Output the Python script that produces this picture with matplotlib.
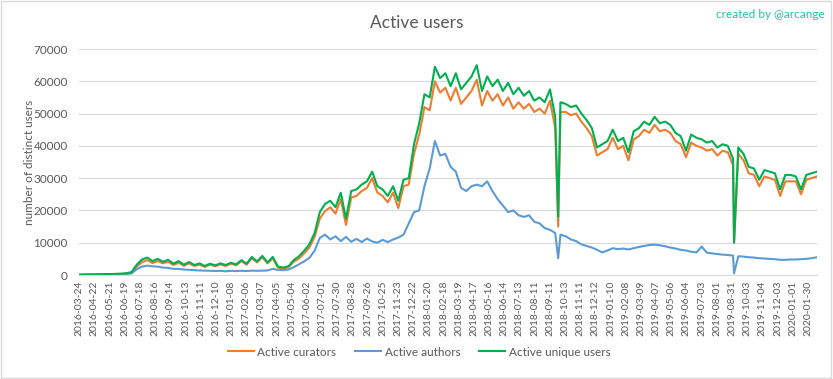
import matplotlib
matplotlib.use("Agg")
import matplotlib.pyplot as plt
from matplotlib.patches import Rectangle
import numpy as np

# ==========================================
# DATA (one sample about every 10 days)
# ==========================================

N_DAYS = 1410

tick_labels = [
    "2016-03-24", "2016-04-22", "2016-05-21", "2016-06-19", "2016-07-18",
    "2016-08-16", "2016-09-14", "2016-10-13", "2016-11-11", "2016-12-10",
    "2017-01-08", "2017-02-06", "2017-03-07", "2017-04-05", "2017-05-04",
    "2017-06-02", "2017-07-01", "2017-07-30", "2017-08-28", "2017-09-26",
    "2017-10-25", "2017-11-23", "2017-12-22", "2018-01-20", "2018-02-18",
    "2018-03-19", "2018-04-17", "2018-05-16", "2018-06-14", "2018-07-13",
    "2018-08-11", "2018-09-11", "2018-10-13", "2018-11-11", "2018-12-12",
    "2019-01-10", "2019-02-08", "2019-03-09", "2019-04-07", "2019-05-06",
    "2019-06-04", "2019-07-03", "2019-08-01", "2019-08-31", "2019-10-03",
    "2019-11-04", "2019-12-03", "2020-01-01", "2020-01-30",
]
TICK_EVERY = 29

unique_users = [
    100, 150, 200, 200, 250, 300, 300, 350, 400, 550,
    900, 3200, 4800, 5400, 4300, 5000, 4100, 4700, 3500, 4300,
    3200, 4000, 3100, 3600, 2800, 3500, 3000, 3600, 3100, 3800,
    3300, 4600, 3500, 5600, 4200, 5900, 3900, 5600, 2600, 2300,
    2700, 4600, 5800, 7500, 9500, 13000, 19500, 22000, 23000, 21000,
    25500, 17500, 26000, 26500, 28000, 29000, 32000, 27500, 26500, 24500,
    27500, 23000, 29500, 30000, 40500, 47000, 56000, 55000, 64500, 61000,
    62500, 58500, 62500, 57500, 59500, 61500, 65000, 57000, 61500, 58500,
    60500, 57000, 59500, 56000, 58000, 55500, 57000, 54000, 55000, 53500,
    57500, 49000, 53500, 53000, 52000, 52500, 50000, 48000, 45500, 39500,
    40500, 41500, 45000, 41500, 42500, 38000, 44500, 45500, 47500, 46500,
    49000, 47000, 47500, 46500, 44000, 43000, 38500, 43500, 42500, 42000,
    41000, 41500, 39500, 40500, 40000, 36000, 39500, 37500, 33500, 33000,
    29500, 32500, 32000, 31500, 26500, 31000, 31000, 30500, 26500, 31000,
    31500, 32000,
]

curators = [
    80, 120, 150, 150, 200, 250, 250, 300, 350, 450,
    700, 2600, 4000, 4600, 3700, 4300, 3600, 4100, 3100, 3800,
    2900, 3600, 2800, 3200, 2500, 3200, 2700, 3300, 2800, 3500,
    3000, 4300, 3200, 5200, 3900, 5500, 3600, 5200, 2300, 2000,
    2400, 4100, 5100, 6700, 8500, 11800, 17500, 19800, 21000, 19000,
    23500, 15500, 24000, 24500, 26000, 27000, 30000, 25500, 24500, 22500,
    25500, 20700, 27500, 28000, 37500, 43500, 52000, 51000, 60000, 56500,
    58000, 54000, 58000, 53000, 55000, 57000, 60500, 52500, 57000, 54000,
    56000, 52500, 55000, 51500, 53500, 51500, 53000, 50500, 51500, 50000,
    54000, 45500, 50500, 50500, 49500, 50000, 47500, 45500, 43000, 37000,
    38000, 39000, 42500, 39000, 40000, 35500, 42000, 43000, 45000, 44000,
    46500, 44500, 45000, 44000, 41500, 40500, 36500, 41000, 40000, 39500,
    38500, 39000, 37000, 38500, 38000, 34000, 37500, 35500, 31500, 31000,
    27500, 30500, 30000, 29500, 24500, 29000, 29000, 29000, 25000, 29500,
    30000, 30500,
]

authors = [
    50, 60, 80, 100, 120, 140, 160, 180, 220, 280,
    500, 1800, 2600, 2900, 2700, 2600, 2300, 2200, 1900, 1900,
    1700, 1600, 1500, 1400, 1350, 1300, 1250, 1300, 1150, 1300,
    1200, 1300, 1250, 1350, 1300, 1350, 1400, 1900, 1600, 1500,
    1700, 2400, 3300, 4200, 5300, 7500, 11500, 12500, 11000, 12000,
    10500, 11800, 10300, 11200, 10200, 11300, 10400, 10000, 10900, 10200,
    11000, 11600, 12500, 16000, 19500, 20000, 27500, 33000, 41500, 37000,
    37500, 33500, 32000, 27000, 26000, 27500, 28000, 27500, 29000, 26000,
    23500, 21500, 19500, 20000, 18500, 18000, 18500, 16500, 16000, 14500,
    14000, 13000, 12500, 12000, 11000, 10500, 9500, 9000, 8500, 7800,
    7000, 7600, 8300, 8000, 8200, 7900, 8300, 8700, 9000, 9300,
    9400, 9200, 8900, 8500, 8200, 7800, 7600, 7200, 7000, 8800,
    6900, 6700, 6500, 6300, 6200, 6000, 5800, 5700, 5500, 5400,
    5200, 5100, 5000, 4900, 4700, 4700, 4800, 4800, 4900, 5000,
    5200, 5500,
]

# one-day outages
dip_day = [915, 1251]
dip_unique = [18000, 10000]
dip_curators = [15000, 10000]
dip_authors = [5200, 500]

# ==========================================
# BUILD SERIES
# ==========================================

def build(values, dips):
    x = np.linspace(0, N_DAYS - 1, len(values))
    x = np.concatenate([x, dip_day])
    y = np.concatenate([values, dips])
    order = np.argsort(x)
    return x[order], y[order]

x_cur, y_cur = build(curators, dip_curators)
x_aut, y_aut = build(authors, dip_authors)
x_uni, y_uni = build(unique_users, dip_unique)

# ==========================================
# PLOT
# ==========================================

plt.rcParams['font.family'] = ['Lato', 'DejaVu Sans']
TEXT = '#595959'
GRID = '#D9D9D9'

fig = plt.figure(figsize=(8.33, 3.79), dpi=100)
ax = fig.add_axes([0.0948, 0.2744, 0.886, 0.5963])

ax.plot(x_cur, y_cur, color='#ED7D31', linewidth=1.5, label='Active curators')
ax.plot(x_aut, y_aut, color='#5B9BD5', linewidth=1.5, label='Active authors')
ax.plot(x_uni, y_uni, color='#00B050', linewidth=1.5, label='Active unique users')

ax.set_xlim(-0.5, N_DAYS - 0.5)
ax.set_ylim(0, 70000)
ax.set_yticks(np.arange(0, 70001, 10000))
ax.set_xticks(np.arange(len(tick_labels)) * TICK_EVERY)
ax.set_xticklabels(tick_labels, rotation=90, fontsize=7.5, color=TEXT)
ax.tick_params(axis='y', labelsize=8.5, labelcolor=TEXT, length=0, pad=8)
ax.tick_params(axis='x', length=0, pad=4)

ax.grid(axis='y', color=GRID, linewidth=0.8)
ax.set_axisbelow(True)
for side in ['top', 'right', 'left']:
    ax.spines[side].set_visible(False)
ax.spines['bottom'].set_color(GRID)

ax.set_ylabel('number of distinct users', fontsize=8.5, color=TEXT, labelpad=-1)

fig.text(0.5, 0.94, 'Active users', ha='center', va='center', fontsize=12.5, color=TEXT)
fig.text(0.99, 0.963, 'created by @arcange', ha='right', va='center', fontsize=8.5, color='#20C5A0')

fig.legend(loc='center', bbox_to_anchor=(0.503, 0.071), ncol=3, frameon=False,
           fontsize=8.5, labelcolor=TEXT, handlelength=2.2, columnspacing=1.6,
           handletextpad=0.3)

fig.patches.append(Rectangle((0.001, 0.002), 0.997, 0.995, transform=fig.transFigure,
                             fill=False, edgecolor=GRID, linewidth=1))

fig.savefig('out.png', dpi=100)
